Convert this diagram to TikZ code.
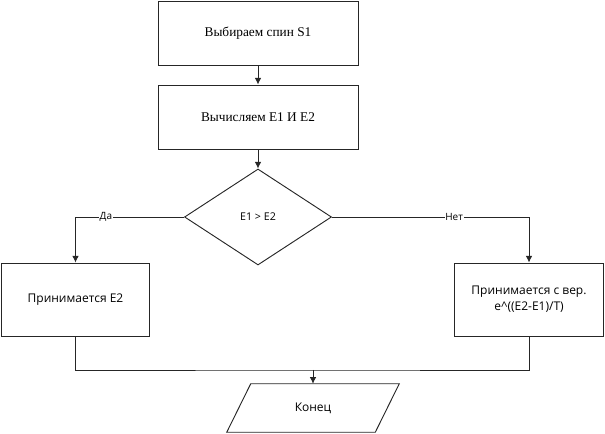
\documentclass[tikz,border=0pt]{standalone}
\usepackage{fontspec}
\setmainfont{Liberation Serif}
\newfontfamily\uifont{Open Sans}
\usepackage{tikz}
\usetikzlibrary{calc}
\usetikzlibrary{positioning}
\usetikzlibrary{shapes.geometric}
\usetikzlibrary{arrows.meta}

\tikzset{
	block/.style={rectangle, draw=black!85, line width=0.7pt, minimum width=150pt, minimum height=48pt, inner sep=0pt, font=\fontsize{10}{12}\selectfont},
	sidebox/.style={rectangle, draw=black!85, line width=0.7pt, minimum width=111.5pt, minimum height=54.75pt, inner sep=0pt, align=center, font=\uifont\fontsize{9}{12}\selectfont},
	decision/.style={diamond, draw=black!85, line width=0.7pt, minimum width=110.25pt, minimum height=72pt, inner sep=0pt, font=\uifont\fontsize{8}{10}\selectfont},
	iobox/.style={rectangle, minimum width=111pt, minimum height=36pt, inner sep=0pt, font=\uifont\fontsize{9}{12}\selectfont},
	flow/.style={draw=black!85, line width=0.7pt},
	tip/.style={-{Latex[length=5pt,width=5pt]}},
	lbl/.style={fill=white, inner sep=0.5pt, font=\uifont\fontsize{7.5}{8}\selectfont}
}

\begin{document}
\begin{tikzpicture}[x=0.75pt,y=0.75pt]
				\useasboundingbox (0,0) rectangle (605,434);
				\node[block] (S1) at (258,401) {Выбираем спин S1};
				\node[block] (E) at (258,317) {Вычисляем E1 И E2};
				\node[decision] (C) at (258,217) {E1 > E2};
				\node[sidebox] (Y) at (75.5,134.5) {Принимается E2};
				\node[sidebox] (N) at (529,134.5) {Принимается с вер.\\e\^{}((E2-E1)/T)};
				\coordinate (J) at (313,64);
				\node[iobox] (END) at (313,26) {Конец};
				\draw[flow] ($(END.south west)+(-12,0)$) -- ($(END.north west)+(12,0)$) -- ($(END.north east)+(12,0)$) -- ($(END.south east)+(-12,0)$) -- cycle;
				
				\draw[flow, tip]  (S1) -- (E);
				\draw[flow, tip]  (E) -- (C);
				\draw[flow, tip]  (C.west) -| (Y.north) node[pos=0.36,lbl] {Да};
				\draw[flow, tip]  (C.east) -| (N.north) node[pos=0.31,lbl] {Нет};
				\draw[flow]  (Y.south) |- (J) -| (N.south);
				\draw[flow, tip]  (J) -- (END.north);
			\end{tikzpicture}
\end{document}
